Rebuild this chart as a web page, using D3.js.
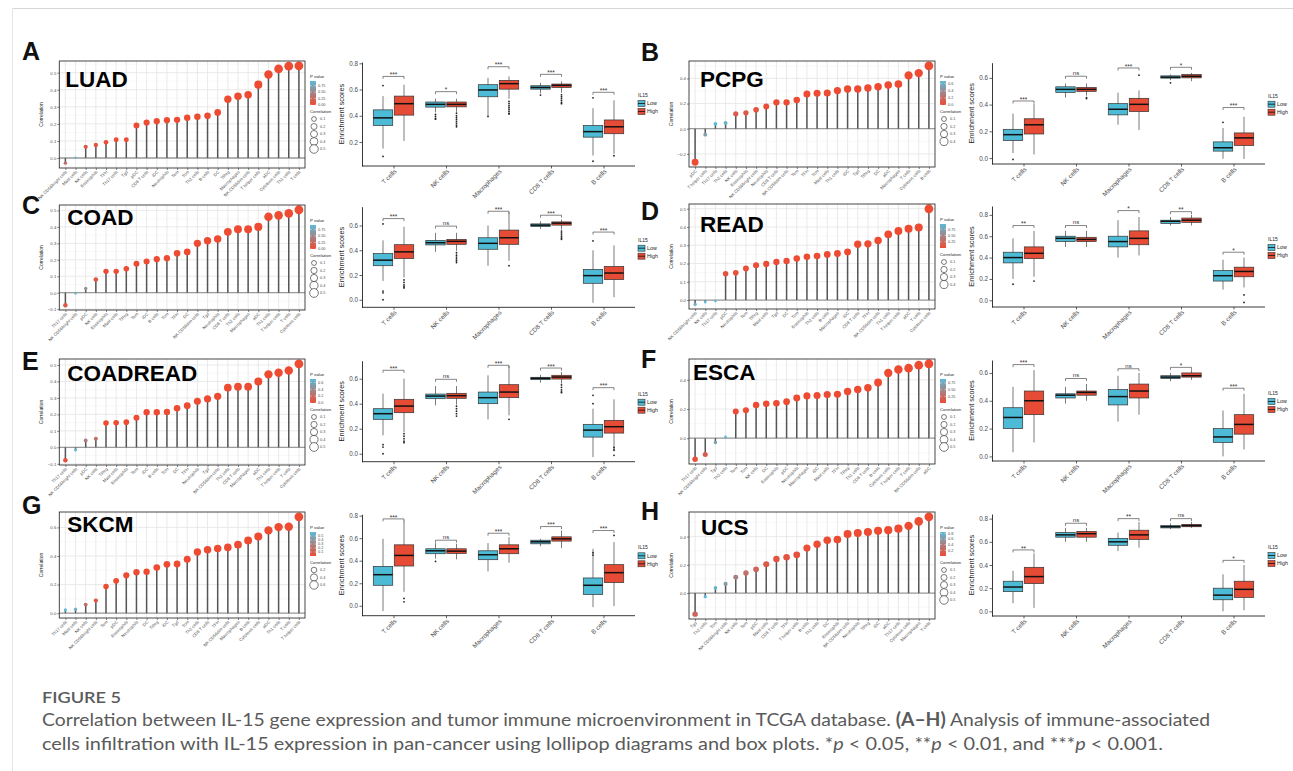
<!DOCTYPE html>
<html>
<head>
<meta charset="utf-8">
<script src="https://cdn.jsdelivr.net/npm/d3@7"></script>
<style>
	body { margin: 0; background: #fff; }
	svg { display: block; }
</style>
</head>
<body>
<svg id="fig" width="1293" height="771"></svg>
<script>
;(() => {
	'use strict';

	// ---------- lollipop data: cell type, correlation with IL15, p value ----------
	const luadCells = ['NK CD56bright cells', 'Mast cells', 'NK cells', 'Eosinophils', 'TFH', 'Th17 cells', 'Tgd', 'pDC', 'CD8 T cells', 'iDC', 'Neutrophils', 'Tem', 'Tcm', 'Th2 cells', 'B cells', 'DC', 'TReg', 'Macrophages', 'NK CD56dim cells', 'T helper cells', 'aDC', 'Cytotoxic cells', 'Th1 cells', 'T cells'];
	const luadCor = [-0.03, 0.002, 0.066, 0.076, 0.092, 0.107, 0.107, 0.191, 0.208, 0.216, 0.222, 0.224, 0.236, 0.242, 0.247, 0.267, 0.345, 0.362, 0.37, 0.43, 0.489, 0.522, 0.538, 0.54];
	const luadP = [0.3, 0.93, 0.12, 0.08, 0.03, 0.01, 0.01, 0, 0, 0, 0, 0, 0, 0, 0, 0, 0, 0, 0, 0, 0, 0, 0, 0];
	const luadPTicks = ['0.00', '0.25', '0.50', '0.75'];
	const luadSizeTicks = [0.1, 0.2, 0.3, 0.4, 0.5];

	const pcpgCells = ['pDC', 'T helper cells', 'Th17 cells', 'Th2 cells', 'NK cells', 'Eosinophils', 'NK CD56bright cells', 'Neutrophils', 'CD8 T cells', 'NK CD56dim cells', 'Tem', 'TFH', 'Tcm', 'Mast cells', 'Th1 cells', 'iDC', 'Tgd', 'TReg', 'DC', 'aDC', 'Macrophages', 'T cells', 'Cytotoxic cells', 'B cells'];
	const pcpgCor = [-0.266, -0.047, 0.039, 0.045, 0.118, 0.126, 0.15, 0.176, 0.21, 0.21, 0.229, 0.276, 0.282, 0.284, 0.303, 0.316, 0.316, 0.324, 0.334, 0.347, 0.355, 0.424, 0.442, 0.5];
	const pcpgP = [0, 0.52, 0.68, 0.62, 0.1, 0.08, 0.04, 0.02, 0, 0, 0, 0, 0, 0, 0, 0, 0, 0, 0, 0, 0, 0, 0, 0];
	const pcpgPTicks = ['0.0', '0.2', '0.4', '0.6'];
	const pcpgSizeTicks = [0.1, 0.2, 0.3, 0.4];

	const coadCells = ['Th17 cells', 'NK CD56bright cells', 'pDC', 'NK cells', 'Eosinophils', 'Mast cells', 'TReg', 'Tem', 'iDC', 'B cells', 'Tcm', 'TFH', 'DC', 'NK CD56dim cells', 'Tgd', 'Neutrophils', 'CD8 T cells', 'Th2 cells', 'Macrophages', 'aDC', 'Th1 cells', 'T helper cells', 'T cells', 'Cytotoxic cells'];
	const coadCor = [-0.076, -0.004, 0.026, 0.08, 0.13, 0.13, 0.146, 0.176, 0.19, 0.204, 0.21, 0.24, 0.248, 0.3, 0.316, 0.326, 0.37, 0.386, 0.386, 0.4, 0.462, 0.47, 0.482, 0.504];
	const coadP = [0.1, 0.92, 0.58, 0.08, 0.01, 0.01, 0, 0, 0, 0, 0, 0, 0, 0, 0, 0, 0, 0, 0, 0, 0, 0, 0, 0];
	const coadPTicks = ['0.00', '0.25', '0.50', '0.75'];
	const coadSizeTicks = [0.1, 0.2, 0.3, 0.4, 0.5];

	const readCells = ['NK CD56bright cells', 'NK cells', 'Th17 cells', 'pDC', 'Neutrophils', 'Tem', 'TReg', 'Mast cells', 'Tgd', 'DC', 'Tcm', 'Eosinophils', 'Th2 cells', 'B cells', 'Macrophages', 'iDC', 'CD8 T cells', 'TFH', 'NK CD56dim cells', 'Th1 cells', 'T helper cells', 'aDC', 'T cells', 'Cytotoxic cells'];
	const readCor = [-0.023, -0.011, -0.005, 0.144, 0.149, 0.173, 0.19, 0.198, 0.209, 0.214, 0.228, 0.237, 0.241, 0.25, 0.255, 0.263, 0.306, 0.308, 0.326, 0.36, 0.378, 0.39, 0.397, 0.5];
	const readP = [0.86, 0.93, 0.96, 0.07, 0.06, 0.03, 0.02, 0.01, 0.01, 0.01, 0.004, 0.003, 0.002, 0.002, 0.001, 0.001, 0.0002, 0.0002, 0.0001, 0.0001, 0.0001, 0.0001, 0.0001, 0.0001];
	const readPTicks = ['0.25', '0.50', '0.75'];
	const readSizeTicks = [0.1, 0.2, 0.3, 0.4];

	const coadreadCells = ['Th17 cells', 'NK CD56bright cells', 'pDC', 'NK cells', 'TReg', 'Mast cells', 'Eosinophils', 'Tem', 'iDC', 'B cells', 'Tcm', 'DC', 'TFH', 'Neutrophils', 'Tgd', 'NK CD56dim cells', 'Th2 cells', 'CD8 T cells', 'Macrophages', 'aDC', 'Th1 cells', 'T helper cells', 'T cells', 'Cytotoxic cells'];
	const coadreadCor = [-0.078, -0.016, 0.042, 0.052, 0.147, 0.149, 0.153, 0.179, 0.213, 0.213, 0.215, 0.237, 0.253, 0.28, 0.294, 0.31, 0.362, 0.368, 0.368, 0.4, 0.443, 0.453, 0.467, 0.507];
	const coadreadP = [0.04, 0.7, 0.3, 0.22, 0, 0, 0, 0, 0, 0, 0, 0, 0, 0, 0, 0, 0, 0, 0, 0, 0, 0, 0, 0];
	const coadreadPTicks = ['0.0', '0.2', '0.4', '0.6'];
	const coadreadSizeTicks = [0.1, 0.2, 0.3, 0.4, 0.5];

	const escaCells = ['Th17 cells', 'NK CD56bright cells', 'Tgd', 'Th2 cells', 'Tem', 'Tcm', 'NK cells', 'DC', 'Eosinophils', 'pDC', 'Neutrophils', 'Macrophages', 'iDC', 'Mast cells', 'TFH', 'TReg', 'Th1 cells', 'CD8 T cells', 'B cells', 'Cytotoxic cells', 'T helper cells', 'T cells', 'NK CD56dim cells', 'aDC'];
	const escaCor = [-0.144, -0.111, -0.03, 0.009, 0.183, 0.192, 0.227, 0.236, 0.239, 0.25, 0.276, 0.29, 0.292, 0.299, 0.301, 0.32, 0.334, 0.345, 0.382, 0.447, 0.47, 0.48, 0.5, 0.51];
	const escaP = [0.05, 0.14, 0.7, 0.9, 0.01, 0.008, 0.002, 0.001, 0.001, 0.0005, 0.0002, 0.0001, 0.0001, 0.0001, 0.0001, 0.0001, 0.0001, 0.0001, 0.0001, 0.0001, 0.0001, 0.0001, 0.0001, 0.0001];
	const escaPTicks = ['0.25', '0.50', '0.75'];
	const escaSizeTicks = [0.1, 0.2, 0.3, 0.4, 0.5];

	const skcmCells = ['Th17 cells', 'Mast cells', 'NK cells', 'NK CD56bright cells', 'Tem', 'pDC', 'Eosinophils', 'Neutrophils', 'DC', 'TReg', 'iDC', 'Tgd', 'Tcm', 'Th2 cells', 'CD8 T cells', 'TFH', 'NK CD56dim cells', 'Macrophages', 'B cells', 'Cytotoxic cells', 'aDC', 'Th1 cells', 'T cells', 'T helper cells'];
	const skcmCor = [0.023, 0.028, 0.06, 0.088, 0.186, 0.226, 0.265, 0.286, 0.29, 0.319, 0.342, 0.344, 0.377, 0.428, 0.444, 0.453, 0.46, 0.479, 0.509, 0.537, 0.579, 0.602, 0.605, 0.674];
	const skcmP = [0.6, 0.54, 0.19, 0.06, 0.0001, 0.0001, 0.0001, 0.0001, 0.0001, 0.0001, 0.0001, 0.0001, 0.0001, 0.0001, 0.0001, 0.0001, 0.0001, 0.0001, 0.0001, 0.0001, 0.0001, 0.0001, 0.0001, 0.0001];
	const skcmPTicks = ['0.1', '0.2', '0.3', '0.4', '0.5'];
	const skcmSizeTicks = [0.2, 0.4, 0.6];

	const ucsCells = ['Tgd', 'Th2 cells', 'Tcm', 'NK CD56bright cells', 'NK cells', 'Tem', 'pDC', 'Mast cells', 'CD8 T cells', 'TFH', 'T helper cells', 'B cells', 'Th1 cells', 'DC', 'Eosinophils', 'NK CD56dim cells', 'Neutrophils', 'TReg', 'iDC', 'aDC', 'Th17 cells', 'Cytotoxic cells', 'Macrophages', 'T cells'];
	const ucsCor = [-0.149, -0.025, 0.037, 0.065, 0.112, 0.142, 0.169, 0.204, 0.242, 0.254, 0.271, 0.319, 0.346, 0.374, 0.379, 0.418, 0.426, 0.433, 0.441, 0.446, 0.456, 0.476, 0.508, 0.54];
	const ucsP = [0.2, 0.85, 0.78, 0.62, 0.4, 0.28, 0.2, 0.12, 0.07, 0.06, 0.04, 0.015, 0.008, 0.004, 0.004, 0.001, 0.001, 0.001, 0.001, 0.001, 0.001, 0.001, 0.0001, 0.0001];
	const ucsPTicks = ['0.2', '0.4', '0.6', '0.8'];
	const ucsSizeTicks = [0.1, 0.2, 0.3, 0.4, 0.5];

	// ---------- box plot data: [lower whisker, Q1, median, Q3, upper whisker] ----------
	const boxCells = ['T cells', 'NK cells', 'Macrophages', 'CD8 T cells', 'B cells'];
	const groupNames = ['Low', 'High'];

	const luadLow = [[0.15, 0.326, 0.384, 0.445, 0.55], [0.426, 0.466, 0.487, 0.505, 0.53], [0.40, 0.545, 0.597, 0.637, 0.69], [0.571, 0.603, 0.616, 0.629, 0.65], [0.097, 0.237, 0.279, 0.326, 0.458]];
	const luadHigh = [[0.208, 0.405, 0.492, 0.55, 0.637], [0.43, 0.468, 0.487, 0.505, 0.53], [0.53, 0.603, 0.645, 0.67, 0.70], [0.575, 0.616, 0.632, 0.642, 0.663], [0.11, 0.263, 0.316, 0.368, 0.518]];
	const luadLowOut = [[0.63, 0.09], [0.41, 0.395, 0.38, 0.374], [0.395], [0.558], [0.537, 0.053]];
	const luadHighOut = [[], [0.42, 0.40, 0.385, 0.37, 0.355, 0.34, 0.325, 0.316], [0.51, 0.495, 0.48, 0.465, 0.45, 0.435, 0.42, 0.413], [0.56, 0.545, 0.53, 0.515, 0.5, 0.492], [0.095]];
	const luadSig = ['***', '*', '***', '***', '***'];
	const luadBracket = [0.70, 0.584, 0.774, 0.716, 0.579];

	const pcpgLow = [[0.037, 0.131, 0.175, 0.215, 0.333], [0.452, 0.491, 0.514, 0.533, 0.558], [0.249, 0.323, 0.365, 0.407, 0.489], [0.583, 0.598, 0.605, 0.615, 0.625], [-0.005, 0.052, 0.077, 0.121, 0.225]];
	const pcpgHigh = [[0.027, 0.18, 0.249, 0.294, 0.407], [0.467, 0.499, 0.514, 0.528, 0.558], [0.21, 0.348, 0.402, 0.447, 0.506], [0.575, 0.6, 0.612, 0.625, 0.637], [-0.007, 0.094, 0.151, 0.188, 0.309]];
	const pcpgLowOut = [[-0.01], [], [], [0.563], [0.267]];
	const pcpgHighOut = [[], [0.452, 0.445], [0.62], [], []];
	const pcpgSig = ['***', 'ns', '***', '*', '***'];
	const pcpgBracket = [0.427, 0.612, 0.674, 0.679, 0.378];

	const coadLow = [[0.152, 0.275, 0.32, 0.373, 0.48], [0.387, 0.443, 0.461, 0.48, 0.541], [0.275, 0.408, 0.456, 0.501, 0.6], [0.573, 0.592, 0.603, 0.613, 0.635], [-0.024, 0.133, 0.195, 0.245, 0.4]];
	const coadHigh = [[0.18, 0.333, 0.387, 0.445, 0.59], [0.395, 0.448, 0.472, 0.488, 0.541], [0.315, 0.448, 0.501, 0.563, 0.707], [0.568, 0.603, 0.619, 0.629, 0.648], [0.021, 0.163, 0.216, 0.269, 0.44]];
	const coadLowOut = [[0.613, 0.07, 0.056, 0], [], [], [], [0.475]];
	const coadHighOut = [[0.16, 0.14, 0.12, 0.105, 0.096], [0.38, 0.36, 0.345, 0.33, 0.315, 0.301], [0.275], [0.555, 0.54, 0.525, 0.51, 0.498, 0.488], []];
	const coadSig = ['***', 'ns', '***', '***', '***'];
	const coadBracket = [0.656, 0.595, 0.715, 0.683, 0.547];

	const readLow = [[0.2, 0.35, 0.40, 0.45, 0.58], [0.5, 0.55, 0.58, 0.6, 0.65], [0.4, 0.5, 0.55, 0.6, 0.75], [0.7, 0.72, 0.74, 0.75, 0.78], [0.1, 0.18, 0.23, 0.28, 0.38]];
	const readHigh = [[0.22, 0.39, 0.44, 0.5, 0.65], [0.5, 0.55, 0.57, 0.59, 0.65], [0.42, 0.52, 0.58, 0.65, 0.78], [0.7, 0.73, 0.75, 0.77, 0.8], [0.12, 0.22, 0.27, 0.31, 0.4]];
	const readLowOut = [[0.15], [], [], [], []];
	const readHighOut = [[0.18], [], [], [], [0.05, -0.02]];
	const readSig = ['**', 'ns', '*', '**', '*'];
	const readBracket = [0.70, 0.70, 0.84, 0.83, 0.45];

	const coadreadLow = [[0.147, 0.275, 0.32, 0.36, 0.48], [0.387, 0.44, 0.461, 0.477, 0.541], [0.275, 0.4, 0.448, 0.493, 0.627], [0.568, 0.592, 0.603, 0.611, 0.632], [-0.027, 0.133, 0.189, 0.235, 0.36]];
	const coadreadHigh = [[0.173, 0.328, 0.381, 0.435, 0.6], [0.392, 0.443, 0.464, 0.483, 0.541], [0.307, 0.448, 0.493, 0.552, 0.701], [0.56, 0.597, 0.613, 0.627, 0.653], [0.019, 0.165, 0.216, 0.267, 0.435]];
	const coadreadLowOut = [[0.072, 0.053, 0], [], [], [], [0.467, 0.4]];
	const coadreadHighOut = [[0.16, 0.14, 0.12, 0.1, 0.088], [0.38, 0.36, 0.34, 0.32, 0.301], [0.275], [0.55, 0.53, 0.51, 0.495, 0.488], [0.05, 0.03, -0.013]];
	const coadreadSig = ['***', 'ns', '***', '***', '***'];
	const coadreadBracket = [0.667, 0.595, 0.707, 0.685, 0.528];

	const escaLow = [[0.03, 0.2, 0.28, 0.35, 0.5], [0.38, 0.42, 0.44, 0.45, 0.5], [0.25, 0.37, 0.43, 0.48, 0.58], [0.54, 0.56, 0.57, 0.58, 0.6], [0.0, 0.1, 0.14, 0.2, 0.33]];
	const escaHigh = [[0.1, 0.3, 0.4, 0.47, 0.62], [0.4, 0.44, 0.46, 0.47, 0.52], [0.3, 0.42, 0.47, 0.52, 0.6], [0.55, 0.57, 0.58, 0.6, 0.62], [0.05, 0.16, 0.23, 0.3, 0.45]];
	const escaLowOut = [[], [], [], [], []];
	const escaHighOut = [[], [], [], [], []];
	const escaSig = ['***', 'ns', 'ns', '*', '***'];
	const escaBracket = [0.66, 0.56, 0.63, 0.64, 0.49];

	const skcmLow = [[-0.047, 0.182, 0.276, 0.35, 0.594], [0.418, 0.462, 0.488, 0.506, 0.556], [0.306, 0.409, 0.453, 0.488, 0.556], [0.529, 0.55, 0.568, 0.582, 0.594], [-0.012, 0.1, 0.182, 0.247, 0.506]];
	const skcmHigh = [[0.124, 0.353, 0.447, 0.541, 0.756], [0.412, 0.465, 0.485, 0.506, 0.55], [0.382, 0.462, 0.506, 0.541, 0.609], [0.512, 0.574, 0.594, 0.612, 0.668], [-0.003, 0.206, 0.294, 0.365, 0.565]];
	const skcmLowOut = [[], [0.394], [], [], [0.471, 0.45]];
	const skcmHighOut = [[0.065, 0.035], [], [], [], [0.624]];
	const skcmSig = ['***', 'ns', '***', '***', '***'];
	const skcmBracket = [0.771, 0.582, 0.644, 0.703, 0.668];

	const ucsLow = [[0.07, 0.17, 0.21, 0.26, 0.35], [0.6, 0.64, 0.66, 0.68, 0.72], [0.52, 0.57, 0.6, 0.63, 0.68], [0.71, 0.72, 0.73, 0.74, 0.76], [0.0, 0.1, 0.14, 0.2, 0.32]];
	const ucsHigh = [[0.03, 0.24, 0.3, 0.38, 0.5], [0.6, 0.64, 0.67, 0.69, 0.72], [0.55, 0.62, 0.66, 0.7, 0.77], [0.72, 0.73, 0.74, 0.75, 0.77], [0.01, 0.12, 0.19, 0.26, 0.4]];
	const ucsLowOut = [[], [], [], [], []];
	const ucsHighOut = [[], [], [], [], []];
	const ucsSig = ['**', 'ns', '**', 'ns', '*'];
	const ucsBracket = [0.53, 0.76, 0.8, 0.8, 0.44];

	// ---------- panel list ----------
	const panels = [
		{ letter: 'A', title: 'LUAD', cells: luadCells, cor: luadCor, pv: luadP, pTicks: luadPTicks, sTicks: luadSizeTicks, low: luadLow, high: luadHigh, lowOut: luadLowOut, highOut: luadHighOut, sig: luadSig, bracket: luadBracket },
		{ letter: 'B', title: 'PCPG', cells: pcpgCells, cor: pcpgCor, pv: pcpgP, pTicks: pcpgPTicks, sTicks: pcpgSizeTicks, low: pcpgLow, high: pcpgHigh, lowOut: pcpgLowOut, highOut: pcpgHighOut, sig: pcpgSig, bracket: pcpgBracket },
		{ letter: 'C', title: 'COAD', cells: coadCells, cor: coadCor, pv: coadP, pTicks: coadPTicks, sTicks: coadSizeTicks, low: coadLow, high: coadHigh, lowOut: coadLowOut, highOut: coadHighOut, sig: coadSig, bracket: coadBracket },
		{ letter: 'D', title: 'READ', cells: readCells, cor: readCor, pv: readP, pTicks: readPTicks, sTicks: readSizeTicks, low: readLow, high: readHigh, lowOut: readLowOut, highOut: readHighOut, sig: readSig, bracket: readBracket },
		{ letter: 'E', title: 'COADREAD', cells: coadreadCells, cor: coadreadCor, pv: coadreadP, pTicks: coadreadPTicks, sTicks: coadreadSizeTicks, low: coadreadLow, high: coadreadHigh, lowOut: coadreadLowOut, highOut: coadreadHighOut, sig: coadreadSig, bracket: coadreadBracket },
		{ letter: 'F', title: 'ESCA', cells: escaCells, cor: escaCor, pv: escaP, pTicks: escaPTicks, sTicks: escaSizeTicks, low: escaLow, high: escaHigh, lowOut: escaLowOut, highOut: escaHighOut, sig: escaSig, bracket: escaBracket },
		{ letter: 'G', title: 'SKCM', cells: skcmCells, cor: skcmCor, pv: skcmP, pTicks: skcmPTicks, sTicks: skcmSizeTicks, low: skcmLow, high: skcmHigh, lowOut: skcmLowOut, highOut: skcmHighOut, sig: skcmSig, bracket: skcmBracket },
		{ letter: 'H', title: 'UCS', cells: ucsCells, cor: ucsCor, pv: ucsP, pTicks: ucsPTicks, sTicks: ucsSizeTicks, low: ucsLow, high: ucsHigh, lowOut: ucsLowOut, highOut: ucsHighOut, sig: ucsSig, bracket: ucsBracket }
	];

	// layout of each panel (pixels)
	const layouts = {
		A: { side: 0, ly0: 61, ly1: 168, by0: 62, by1: 166, letterY: 60, tdx: 6, tdy: 26 },
		B: { side: 1, ly0: 61, ly1: 167, by0: 62.7, by1: 164, letterY: 61, tdx: 11, tdy: 26 },
		C: { side: 0, ly0: 205, ly1: 310, by0: 206.7, by1: 307.3, letterY: 214, tdx: 8, tdy: 20 },
		D: { side: 1, ly0: 204, ly1: 309, by0: 206, by1: 307, letterY: 220, tdx: 11, tdy: 28 },
		E: { side: 0, ly0: 359, ly1: 465, by0: 360.7, by1: 461.7, letterY: 370, tdx: 8, tdy: 22 },
		F: { side: 1, ly0: 359, ly1: 464, by0: 360, by1: 461, letterY: 368, tdx: 4, tdy: 21 },
		G: { side: 0, ly0: 512, ly1: 618, by0: 514.3, by1: 615.7, letterY: 514, tdx: 8, tdy: 20 },
		H: { side: 1, ly0: 512, ly1: 619, by0: 514, by1: 616, letterY: 520, tdx: 12, tdy: 23 }
	};
	const sideX = [
		{ letter: 22, lx0: 59.3, lx1: 305, bx0: 362, bx1: 635 },
		{ letter: 641, lx0: 689, lx1: 935, bx0: 992, bx1: 1265 }
	];

	const FONT = 'Liberation Sans, Arial, Helvetica, sans-serif',
		RED = '#EE4B33',
		BLUE = '#5CBAD8',
		LOW_FILL = '#4DBBD5',
		HIGH_FILL = '#E64B35',
		TXT = '#4d4d4d';

	const svg = d3.select('#fig');
	const defs = svg.append('defs');

	// frame of the figure page
	svg.append('line').attr('x1', 12).attr('x2', 1293).attr('y1', 8.5).attr('y2', 8.5)
		.attr('stroke', '#d6d6d6').attr('stroke-width', 1);
	svg.append('line').attr('x1', 12.5).attr('x2', 12.5).attr('y1', 8).attr('y2', 771)
		.attr('stroke', '#e6e6e6').attr('stroke-width', 1);


	/**
	* lollipop chart of correlations, coloured by p value and sized by |r|
	*/
	const drawLollipop = function(d, L, S) {
		const g = svg.append('g').attr('font-family', FONT);
		const x = d3.scalePoint().domain(d.cells).range([S.lx0, S.lx1]).padding(0.6);
		const ext = d3.extent(d.cor.concat([0])),
			pad = (ext[1] - ext[0]) * 0.05;
		const y = d3.scaleLinear().domain([ext[0] - pad, ext[1] + pad]).range([L.ly1, L.ly0]);
		const yTicks = y.ticks(5),
			half = (yTicks[1] - yTicks[0]) / 2,
			minor = yTicks.map(v => v - half).concat([yTicks[yTicks.length - 1] + half])
				.filter(v => v > y.domain()[0] && v < y.domain()[1]);
		const pExt = d3.extent(d.pv);
		const color = d3.scaleLinear().domain(pExt).range([RED, BLUE]).interpolate(d3.interpolateRgb);
		const size = d3.scaleSqrt().domain([0, d3.max(d.cor, Math.abs)]).range([0.9, 4.4]);

		// grid
		g.selectAll('.minor').data(minor).join('line')
			.attr('x1', S.lx0).attr('x2', S.lx1).attr('y1', v => y(v)).attr('y2', v => y(v))
			.attr('stroke', '#f2f2f2').attr('stroke-width', 0.5);
		g.selectAll('.major').data(yTicks).join('line')
			.attr('x1', S.lx0).attr('x2', S.lx1).attr('y1', v => y(v)).attr('y2', v => y(v))
			.attr('stroke', '#e4e4e4').attr('stroke-width', 0.8);
		g.selectAll('.vgrid').data(d.cells).join('line')
			.attr('x1', c => x(c)).attr('x2', c => x(c)).attr('y1', L.ly0).attr('y2', L.ly1)
			.attr('stroke', '#e4e4e4').attr('stroke-width', 0.8);

		// zero line
		g.append('line').attr('x1', S.lx0).attr('x2', S.lx1).attr('y1', y(0)).attr('y2', y(0))
			.attr('stroke', '#9b9b9b').attr('stroke-width', 1.3);

		// stems and heads
		g.selectAll('.stem').data(d.cells).join('line')
			.attr('x1', c => x(c)).attr('x2', c => x(c))
			.attr('y1', y(0)).attr('y2', (c, i) => y(d.cor[i]))
			.attr('stroke', '#555').attr('stroke-width', 1.5);
		g.selectAll('.head').data(d.cells).join('circle')
			.attr('cx', c => x(c)).attr('cy', (c, i) => y(d.cor[i]))
			.attr('r', (c, i) => size(Math.abs(d.cor[i])))
			.attr('fill', (c, i) => color(d.pv[i]));

		// border
		g.append('rect').attr('x', S.lx0).attr('y', L.ly0)
			.attr('width', S.lx1 - S.lx0).attr('height', L.ly1 - L.ly0)
			.attr('fill', 'none').attr('stroke', '#333').attr('stroke-width', 0.9);

		// axes
		const yAxis = g.append('g').attr('transform', `translate(${S.lx0},0)`)
			.call(d3.axisLeft(y).tickValues(yTicks).tickSize(2).tickFormat(d3.format('.1f')));
		const xAxis = g.append('g').attr('transform', `translate(0,${L.ly1})`)
			.call(d3.axisBottom(x).tickSize(2));
		[yAxis, xAxis].forEach(a => {
			a.select('.domain').remove();
			a.selectAll('line').attr('stroke', '#333').attr('stroke-width', 0.6);
			a.selectAll('text').attr('fill', TXT).attr('font-size', 4.3);
		});
		yAxis.selectAll('text').attr('x', -3);
		xAxis.selectAll('text')
			.attr('transform', 'rotate(-45)').attr('x', -2).attr('y', 2.6).attr('dy', '0.35em')
			.style('text-anchor', 'end');

		g.append('text').attr('transform', `translate(${S.lx0 - 16},${(L.ly0 + L.ly1) / 2}) rotate(-90)`)
			.attr('text-anchor', 'middle').attr('font-size', 5).attr('fill', '#222').text('Correlation');

		// cancer label
		g.append('text').attr('x', S.lx0 + L.tdx).attr('y', L.ly0 + L.tdy)
			.attr('font-size', 22.5).attr('font-weight', 'bold').attr('fill', '#000').text(d.title);

		// legend: p value colour bar
		const lx = S.lx1 + 5,
			barTop = L.ly0 + 20,
			barBot = L.ly0 + 44;
		const gradId = 'grad' + d.letter;
		const grad = defs.append('linearGradient').attr('id', gradId)
			.attr('x1', 0).attr('x2', 0).attr('y1', 1).attr('y2', 0);
		d3.range(0, 1.01, 0.1).forEach(t => {
			grad.append('stop').attr('offset', t)
				.attr('stop-color', color(pExt[0] + t * (pExt[1] - pExt[0])));
		});
		g.append('text').attr('x', lx).attr('y', L.ly0 + 17).attr('font-size', 4.3).attr('fill', '#222').text('P value');
		g.append('rect').attr('x', lx).attr('y', barTop).attr('width', 6).attr('height', barBot - barTop)
			.attr('fill', `url(#${gradId})`);
		const pBar = d3.scaleLinear().domain(pExt).range([barBot, barTop]);
		const pt = g.selectAll('.pt').data(d.pTicks).join('g')
			.attr('transform', s => `translate(0,${pBar(+s)})`);
		pt.append('line').attr('x1', lx).attr('x2', lx + 1.5).attr('stroke', '#fff').attr('stroke-width', 0.5);
		pt.append('line').attr('x1', lx + 4.5).attr('x2', lx + 6).attr('stroke', '#fff').attr('stroke-width', 0.5);
		pt.append('text').attr('x', lx + 8).attr('dy', '0.35em').attr('font-size', 3.8).attr('fill', TXT).text(s => s);

		// legend: correlation size
		g.append('text').attr('x', lx).attr('y', L.ly0 + 52).attr('font-size', 4.3).attr('fill', '#222').text('Correlation');
		const st = g.selectAll('.st').data(d.sTicks).join('g')
			.attr('transform', (s, i) => `translate(${lx + 4},${L.ly0 + 58 + i * 7.5})`);
		st.append('circle').attr('r', s => size(s)).attr('fill', '#fff').attr('stroke', '#222').attr('stroke-width', 0.6);
		st.append('text').attr('x', 6).attr('dy', '0.35em').attr('font-size', 3.8).attr('fill', TXT).text(s => s);
	};


	/**
	* grouped box plot of enrichment scores, Low vs High IL15
	*/
	const drawBox = function(d, L, S) {
		const g = svg.append('g').attr('font-family', FONT);
		const x = d3.scalePoint().domain(boxCells).range([S.bx0, S.bx1]).padding(0.6);
		const all = [].concat(d.low.flat(), d.high.flat(), d.lowOut.flat(), d.highOut.flat(), d.bracket);
		const lo = d3.min(all), hi = d3.max(all), pad = (hi - lo) * 0.05;
		const y = d3.scaleLinear().domain([lo - pad, hi + pad]).range([L.by1, L.by0]);
		const step = x.step(), off = step * 0.2, bw = step * 0.37;

		const groups = [
			{ stats: d.low, out: d.lowOut, fill: LOW_FILL, dx: -off },
			{ stats: d.high, out: d.highOut, fill: HIGH_FILL, dx: off }
		];
		groups.forEach(grp => {
			const gg = g.selectAll(null).data(boxCells).join('g')
				.attr('transform', c => `translate(${x(c) + grp.dx},0)`);
			gg.append('line').attr('y1', (c, i) => y(grp.stats[i][0])).attr('y2', (c, i) => y(grp.stats[i][4]))
				.attr('stroke', '#222').attr('stroke-width', 0.6);
			gg.append('rect').attr('x', -bw / 2).attr('width', bw)
				.attr('y', (c, i) => y(grp.stats[i][3]))
				.attr('height', (c, i) => y(grp.stats[i][1]) - y(grp.stats[i][3]))
				.attr('fill', grp.fill).attr('stroke', '#333').attr('stroke-width', 0.7);
			gg.append('line').attr('x1', -bw / 2).attr('x2', bw / 2)
				.attr('y1', (c, i) => y(grp.stats[i][2])).attr('y2', (c, i) => y(grp.stats[i][2]))
				.attr('stroke', '#111').attr('stroke-width', 1.5);
			gg.selectAll('circle').data((c, i) => grp.out[i]).join('circle')
				.attr('cy', v => y(v)).attr('r', 0.9).attr('fill', '#222');
		});

		// significance brackets
		const br = g.selectAll('.br').data(boxCells).join('g');
		br.append('path')
			.attr('d', (c, i) => {
				const yb = y(d.bracket[i]);
				return `M${x(c) - off},${yb + 2.5}V${yb}H${x(c) + off}V${yb + 2.5}`;
			})
			.attr('fill', 'none').attr('stroke', '#333').attr('stroke-width', 0.6);
		br.append('text').attr('x', c => x(c)).attr('y', (c, i) => y(d.bracket[i]) - (d.sig[i] === 'ns' ? 1.2 : -0.6))
			.attr('text-anchor', 'middle').attr('font-size', (c, i) => d.sig[i] === 'ns' ? 6 : 6.5)
			.attr('fill', '#333').text((c, i) => d.sig[i]);

		// axes
		const yAxis = g.append('g').attr('transform', `translate(${S.bx0},0)`)
			.call(d3.axisLeft(y).ticks(5).tickSize(2.5).tickSizeOuter(0).tickFormat(d3.format('.1f')));
		const xAxis = g.append('g').attr('transform', `translate(0,${L.by1})`)
			.call(d3.axisBottom(x).tickSize(2.5).tickSizeOuter(0));
		xAxis.select('.domain').attr('d', `M${S.bx0},0H${S.bx1}`);
		[yAxis, xAxis].forEach(a => {
			a.select('.domain').attr('stroke', '#222').attr('stroke-width', 0.9);
			a.selectAll('line').attr('stroke', '#222').attr('stroke-width', 0.7);
			a.selectAll('text').attr('fill', TXT).attr('font-size', 6.3);
		});
		yAxis.selectAll('text').attr('x', -4);
		xAxis.selectAll('text')
			.attr('transform', 'rotate(-45)').attr('x', -2).attr('y', 4).attr('dy', '0.35em')
			.style('text-anchor', 'end');

		g.append('text').attr('transform', `translate(${S.bx0 - 18},${(L.by0 + L.by1) / 2}) rotate(-90)`)
			.attr('text-anchor', 'middle').attr('font-size', 7.3).attr('fill', '#222').text('Enrichment scores');

		// legend
		const lg = g.append('g').attr('transform', `translate(${S.bx1 + 3},${L.by0})`);
		lg.append('text').attr('y', 35).attr('font-size', 5).attr('fill', '#222').text('IL15');
		const keys = lg.selectAll('.key').data(groupNames).join('g')
			.attr('transform', (k, i) => `translate(0,${38.5 + i * 8})`);
		keys.append('rect').attr('width', 7).attr('height', 6)
			.attr('fill', (k, i) => groups[i].fill).attr('stroke', '#333').attr('stroke-width', 0.6);
		keys.append('line').attr('x1', 0).attr('x2', 7).attr('y1', 3).attr('y2', 3)
			.attr('stroke', '#111').attr('stroke-width', 0.8);
		keys.append('text').attr('x', 9).attr('y', 3).attr('dy', '0.35em')
			.attr('font-size', 5.3).attr('fill', '#222').text(k => k);
	};


	panels.forEach(p => {
		const L = layouts[p.letter], S = sideX[L.side];
		svg.append('text').attr('x', S.letter).attr('y', L.letterY)
			.attr('font-family', FONT).attr('font-weight', 'bold').attr('font-size', 25)
			.attr('fill', '#111').text(p.letter);
		drawLollipop(p, L, S);
		drawBox(p, L, S);
	});

	// caption
	const cap = svg.append('g').attr('font-family', 'Lato, "Open Sans", sans-serif').attr('fill', '#5a5a5a');
	cap.append('text').attr('x', 42).attr('y', 703).attr('font-size', 16).attr('font-weight', 600)
		.attr('textLength', 79).attr('lengthAdjust', 'spacingAndGlyphs').text('FIGURE 5');
	const line1 = cap.append('text').attr('x', 42).attr('y', 726).attr('font-size', 18)
		.attr('textLength', 1168).attr('lengthAdjust', 'spacingAndGlyphs');
	line1.append('tspan').text('Correlation between IL-15 gene expression and tumor immune microenvironment in TCGA database. ');
	line1.append('tspan').attr('font-weight', 'bold').text('(A–H)');
	line1.append('tspan').text(' Analysis of immune-associated');
	const line2 = cap.append('text').attr('x', 42).attr('y', 750).attr('font-size', 18)
		.attr('textLength', 1121).attr('lengthAdjust', 'spacingAndGlyphs');
	line2.append('tspan').text('cells infiltration with IL-15 expression in pan-cancer using lollipop diagrams and box plots. *');
	line2.append('tspan').attr('font-style', 'italic').text('p');
	line2.append('tspan').text(' < 0.05, **');
	line2.append('tspan').attr('font-style', 'italic').text('p');
	line2.append('tspan').text(' < 0.01, and ***');
	line2.append('tspan').attr('font-style', 'italic').text('p');
	line2.append('tspan').text(' < 0.001.');

})();
</script>
</body>
</html>
